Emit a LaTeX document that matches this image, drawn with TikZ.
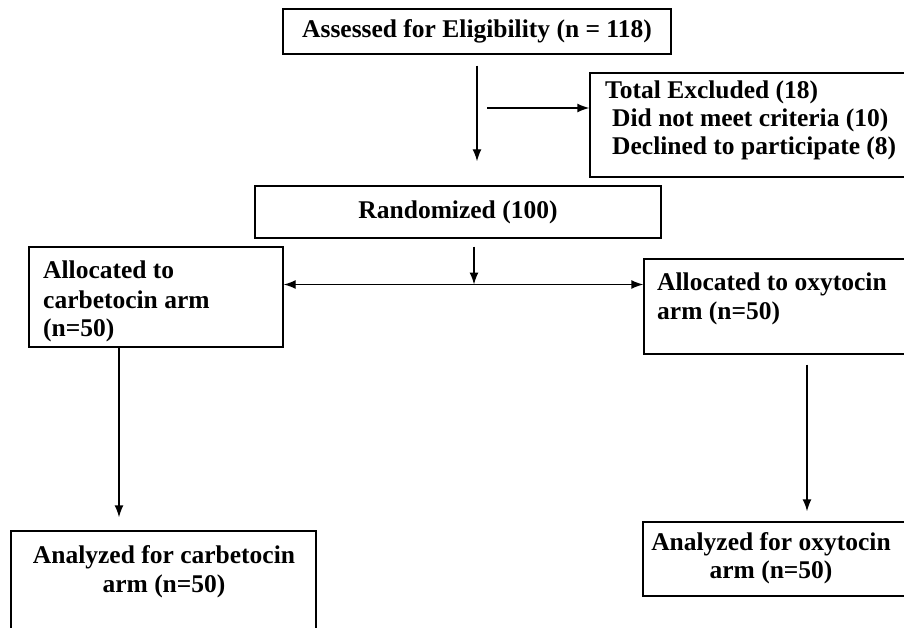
\documentclass[tikz,border=0pt]{standalone}
\usepackage{fontspec}
\setmainfont{Liberation Serif}
\usetikzlibrary{arrows.meta,calc}
\tikzset{
  box/.style={draw=black, line width=1.4pt, inner sep=0pt},
  txt/.style={inner sep=0pt, anchor=base west},
  txtc/.style={inner sep=0pt, anchor=base},
  arr/.style={-{Latex[length=12pt,width=9pt]}, line width=1.4pt},
  darr/.style={{Latex[length=12pt,width=9pt]}-{Latex[length=12pt,width=9pt]}, line width=1.4pt},
}
\begin{document}
\begin{tikzpicture}[x=1pt,y=-1pt,font=\fontsize{25.5}{30}\selectfont\bfseries]
\useasboundingbox (0,0) rectangle (904,628);
\clip (0,0) rectangle (904,628);
\fill[white] (0,0) rectangle (904,628);

% boxes
\node[box, minimum width=388pt, minimum height=45pt] (assess) at (477,31.5) {Assessed for Eligibility (n = 118)};
\node[box, minimum width=330pt, minimum height=104pt] (excl) at (755,125) {};
\node[box, minimum width=406pt, minimum height=52pt] (rand) at (458,212) {Randomized (100)};
\node[box, minimum width=254pt, minimum height=100pt] (carb) at (156,297) {};
\node[box, minimum width=276pt, minimum height=95pt] (oxy) at (782,306.5) {};
\node[box, minimum width=305pt, minimum height=109pt] (anc) at (163.5,585.5) {};
\node[box, minimum width=277pt, minimum height=74pt] (ano) at (781.5,559) {};

% texts
\node[txt] (e1) at (605,99) {Total Excluded (18)};
\node[txt] (e2) at (612,127) {Did not meet criteria (10)};
\node[txt] (e3) at (612,155) {Declined to participate (8)};
\node[txt] (c1) at (43,278) {Allocated to};
\node[txt] (c2) at (43,308) {carbetocin arm};
\node[txt] (c3) at (43,336) {(n=50)};
\node[txt] (o1) at (657,290) {Allocated to oxytocin};
\node[txt] (o2) at (657,319) {arm (n=50)};
\node[txtc] (a1) at (164,563) {Analyzed for carbetocin};
\node[txtc] (a2) at (164,592) {arm (n=50)};
\node[txtc] (b1) at (771,550) {Analyzed for oxytocin};
\node[txtc] (b2) at (771,578) {arm (n=50)};

% connectors
\coordinate (split1) at (477,108);
\coordinate (split2) at (474,284.5);
\coordinate (cs) at ([xshift=-37pt]carb.south);
\coordinate (os) at ([xshift=25pt]oxy.south);
\draw[arr] ([yshift=-11pt]assess.south) -- ([yshift=24pt]assess.south |- rand.north);
\draw[arr] ([xshift=10pt]split1) -- (split1 -| excl.west);
\draw[arr] ([yshift=-8pt]rand.south -| split2) -- (split2);
\draw[darr] (carb.east |- split2) -- (oxy.west |- split2);
\draw[arr] (cs) -- ([yshift=13pt]anc.north -| cs);
\draw[arr] ([yshift=-10pt]os) -- ([yshift=10pt]ano.north -| os);
\end{tikzpicture}
\end{document}
